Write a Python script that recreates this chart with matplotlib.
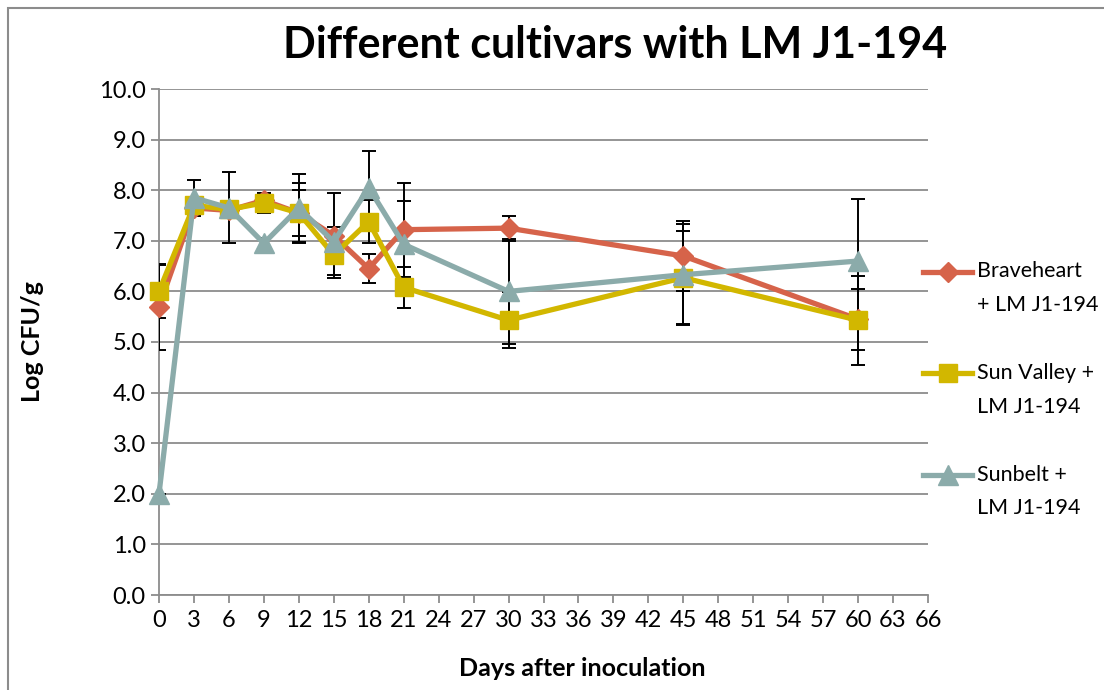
import matplotlib.pyplot as plt
from matplotlib.patches import Rectangle

plt.rcParams['font.family'] = ['Lato', 'DejaVu Sans']

# Data
days = [0, 3, 6, 9, 12, 15, 18, 21, 30, 45, 60]

braveheart = [5.7, 7.65, 7.6, 7.8, 7.55, 7.1, 6.45, 7.22, 7.25, 6.7, 5.45]
braveheart_err = [0.85, 0.1, 0.1, 0.15, 0.6, 0.84, 0.28, 0.93, 0.25, 0.7, 0.6]

sun_valley = [6.0, 7.7, 7.62, 7.75, 7.55, 6.72, 7.38, 6.08, 5.43, 6.27, 5.43]
sun_valley_err = [0.52, 0.15, 0.1, 0.2, 0.45, 0.4, 0.42, 0.4, 0.55, 0.92, 0.88]

sunbelt = [2.0, 7.85, 7.65, 6.95, 7.65, 6.98, 8.05, 6.93, 6.0, 6.33, 6.6]
sunbelt_err = [0.0, 0.36, 0.7, 0.1, 0.67, 0.3, 0.72, 0.85, 1.03, 1.0, 1.22]

labels = ['\nBraveheart\n+ LM J1-194', '\nSun Valley +\nLM J1-194', '\nSunbelt +\nLM J1-194']
colors = ['#D6634A', '#D2B700', '#8BABAA']
markers = ['D', 's', '^']
msizes = [10, 13, 14]

fig = plt.figure(figsize=(11.04, 6.9), dpi=100)
ax = fig.add_axes([159 / 1104, 95 / 690, 769 / 1104, 506 / 690])

# outer chart border (top and left visible)
fig.patches.append(Rectangle((8 / 1104, -0.1), 1.2, (682 / 690) + 0.1, transform=fig.transFigure,
                             fill=False, edgecolor='#8c8c8c', linewidth=1.5))

series = [(braveheart, braveheart_err), (sun_valley, sun_valley_err), (sunbelt, sunbelt_err)]

# error bars first, under the lines
for vals, err in series:
    ax.errorbar(days, vals, yerr=err, fmt='none', ecolor='black', elinewidth=1.4,
                capsize=5, capthick=1.4, zorder=3)

for (vals, err), lab, c, m, ms in zip(series, labels, colors, markers, msizes):
    ax.plot(days, vals, color=c, linewidth=3.8, marker=m, markersize=ms,
            label=lab, zorder=4, clip_on=False)

ax.set_xlim(0, 66)
ax.set_ylim(0, 10)
ax.set_xticks(range(0, 67, 3))
ax.set_yticks([i for i in range(11)])
ax.set_yticklabels(['%.1f' % i for i in range(11)])
ax.tick_params(axis='both', labelsize=17, color='#8c8c8c', length=6, width=1.3, direction='out')
ax.tick_params(axis='x', pad=5)
ax.grid(axis='y', color='#8c8c8c', linewidth=1.3)
ax.set_axisbelow(True)
for s in ['top', 'right']:
    ax.spines[s].set_visible(False)
for s in ['left', 'bottom']:
    ax.spines[s].set_color('#8c8c8c')
    ax.spines[s].set_linewidth(1.3)

fig.text(615 / 1104, 1 - 45 / 690, 'Different cultivars with LM J1-194', fontsize=31,
         fontweight='bold', ha='center', va='center')
fig.text(33 / 1104, 1 - 342 / 690, 'Log CFU/g', fontsize=18, fontweight='bold',
         rotation=90, ha='center', va='center')
fig.text(582 / 1104, 1 - 668 / 690, 'Days after inoculation', fontsize=18, fontweight='bold',
         ha='center', va='center')

leg = ax.legend(loc='upper left', bbox_to_anchor=(912 / 1104, 1 - 217 / 690),
                bbox_transform=fig.transFigure, frameon=False, fontsize=15.5,
                handlelength=2.3, handletextpad=0.2, labelspacing=0.67, borderpad=0)
for t in leg.get_texts():
    t.set_linespacing(1.85)

fig.savefig('out.png', dpi=100)
